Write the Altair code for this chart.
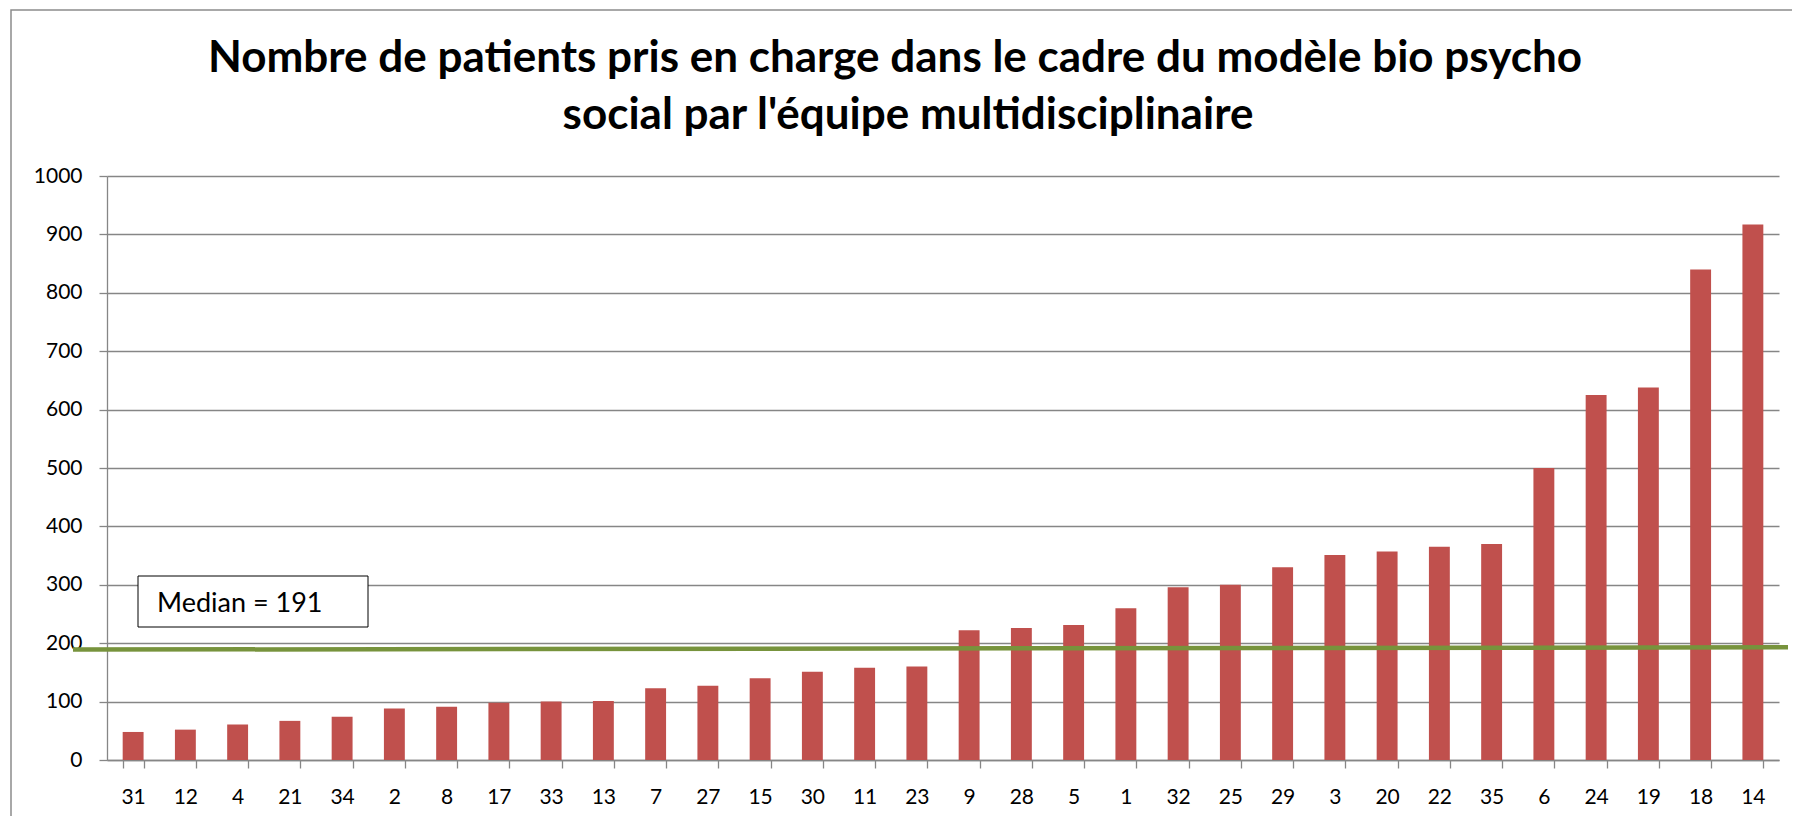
import altair as alt
import pandas as pd

# ---- data ----
categories = ["31", "12", "4", "21", "34", "2", "8", "17", "33", "13", "7",
              "27", "15", "30", "11", "23", "9", "28", "5", "1", "32", "25",
              "29", "3", "20", "22", "35", "6", "24", "19", "18", "14"]
patients = [48, 52, 61, 67, 74, 88, 91, 98, 100, 101, 123,
            127, 140, 151, 158, 160, 222, 226, 231, 260, 296, 300,
            330, 351, 357, 365, 370, 500, 625, 638, 840, 917]
median_label = ["Median = 191"]
median_line_start = [189]
median_line_end = [193]
y_ticks = list(range(0, 1001, 100))
title_line1 = ["Nombre de patients pris en charge dans le cadre du modèle bio psycho"]
title_line2 = ["social par l'équipe multidisciplinaire"]

W, H = 1672, 584
FONT = "Lato"
GRID = "#868686"

df = pd.DataFrame({"patient": categories, "count": patients})
df_med = pd.DataFrame({"count": median_line_start, "count2": median_line_end})
df_lab = pd.DataFrame({"label": median_label})
df_t1 = pd.DataFrame({"t": title_line1})
df_t2 = pd.DataFrame({"t": title_line2})
df_one = pd.DataFrame({"k": [0]})

yscale = alt.Scale(domain=[0, 1000], nice=False)
yaxis = alt.Axis(title=None, values=y_ticks, format="d",
                 tickSize=8, tickColor=GRID, tickWidth=1.3,
                 domainColor=GRID, domainWidth=1.3,
                 grid=True, gridColor=GRID, gridWidth=1.3,
                 labelFont=FONT, labelFontSize=21, labelColor="black",
                 labelPadding=17)

border = alt.Chart(df_one).mark_rect(
    fill="white", fillOpacity=0, stroke="#8c8c8c", strokeWidth=1.5
).encode(
    x=alt.value(-96), x2=alt.value(W + 80),
    y=alt.value(-166), y2=alt.value(H + 120),
)

title1 = alt.Chart(df_t1).mark_text(
    align="center", baseline="alphabetic", font=FONT, fontSize=44,
    fontWeight="bold", color="black"
).encode(x=alt.value(788), y=alt.value(-104), text="t:N")

title2 = alt.Chart(df_t2).mark_text(
    align="center", baseline="alphabetic", font=FONT, fontSize=44,
    fontWeight="bold", color="black"
).encode(x=alt.value(801), y=alt.value(-47), text="t:N")

bars = alt.Chart(df).mark_bar(color="#C0504D").encode(
    x=alt.X("patient:N", sort=categories,
            scale=alt.Scale(paddingInner=0.6, paddingOuter=0.3),
            axis=alt.Axis(title=None, labelAngle=0, tickBand="extent",
                          tickSize=8, tickColor=GRID, tickWidth=1.3,
                          domainColor=GRID, domainWidth=1.3,
                          labelFont=FONT, labelFontSize=21, labelColor="black",
                          labelPadding=18, grid=False)),
    y=alt.Y("count:Q", scale=yscale, axis=yaxis),
)

median_rule = alt.Chart(df_med).mark_rule(color="#77933C", strokeWidth=4.5).encode(
    x=alt.value(-34), x2=alt.value(W + 9),
    y=alt.Y("count:Q", scale=yscale, axis=yaxis),
    y2="count2:Q",
)

box = alt.Chart(df_one).mark_rect(fill="white", stroke="black", strokeWidth=1).encode(
    x=alt.value(31), x2=alt.value(261),
    y=alt.value(400), y2=alt.value(451),
)

box_text = alt.Chart(df_lab).mark_text(
    align="left", baseline="middle", font=FONT, fontSize=27, color="black"
).encode(
    x=alt.value(50), y=alt.value(428), text="label:N",
)

chart = alt.layer(border, title1, title2, bars, median_rule, box, box_text).properties(
    width=W, height=H,
    autosize=alt.AutoSizeParams(type="none"),
    padding={"left": 99, "top": 168, "right": 13, "bottom": 56},
).configure(
    background="white",
    view=alt.ViewConfig(strokeWidth=0, stroke="transparent"),
)

chart.save("out.html", embed_options={"renderer": "svg", "actions": False})
